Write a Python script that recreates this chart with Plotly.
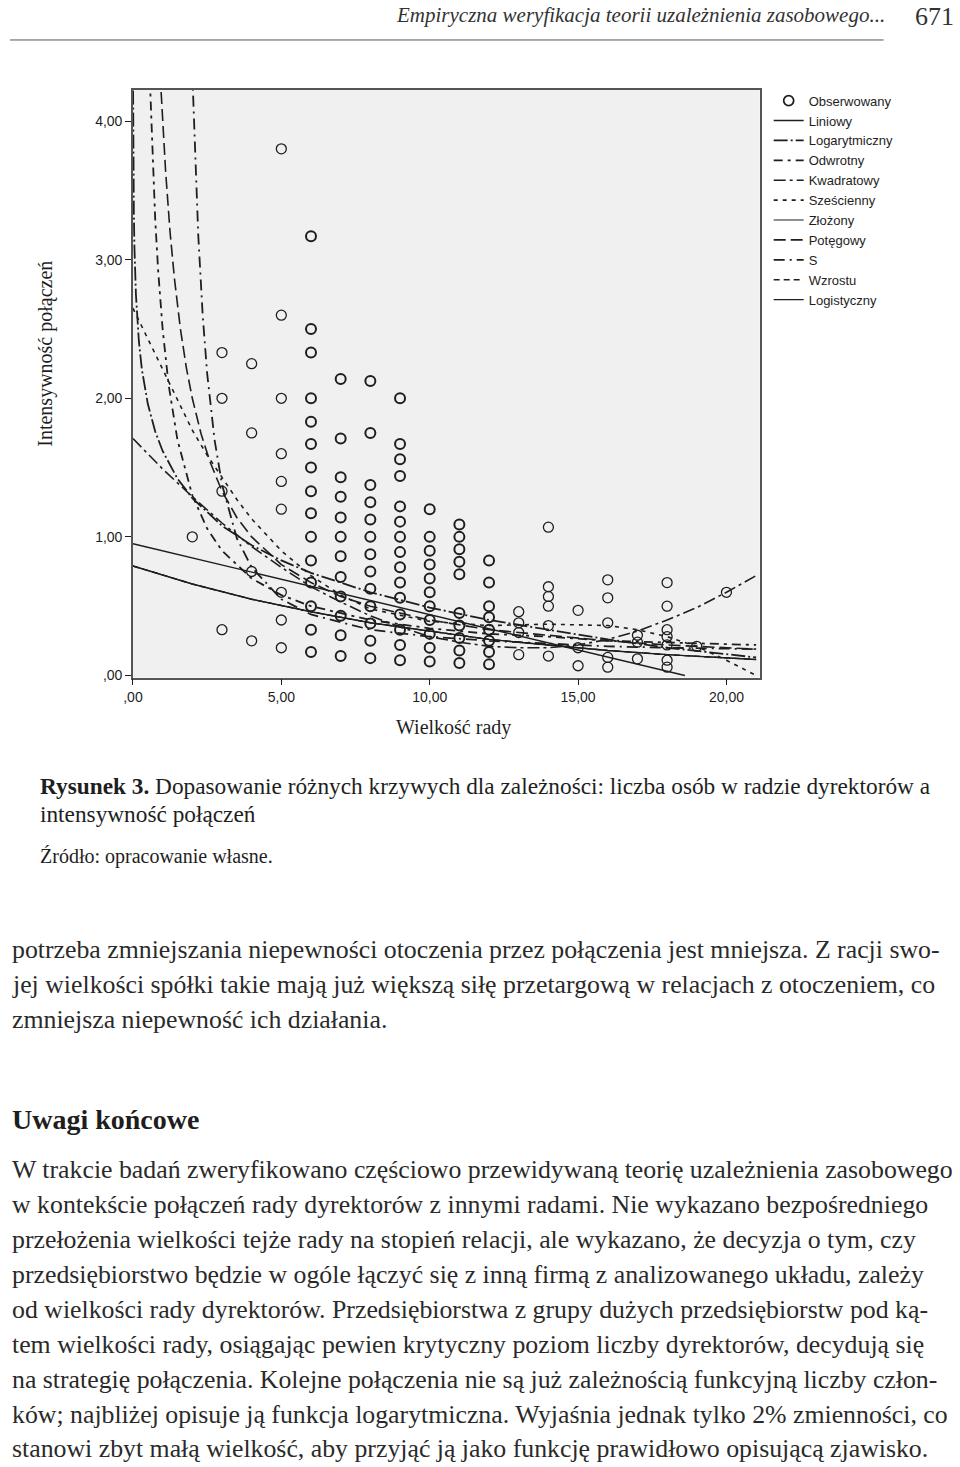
import plotly.graph_objects as go

W, H = 960, 1467

# observed points: board size (Wielkość rady) vs connection intensity
wielkosc = (
    [2]
    + [3] * 4
    + [4] * 4
    + [5] * 9
    + [6] * 15
    + [7] * 12
    + [8] * 13
    + [9] * 15
    + [10] * 11
    + [11] * 10
    + [12] * 8
    + [13] * 4
    + [14] * 6
    + [15] * 3
    + [16] * 5
    + [17] * 3
    + [18] * 7
    + [19]
    + [20]
)
intensywnosc = [
    1.00,
    0.33, 1.33, 2.00, 2.33,
    0.25, 0.75, 1.75, 2.25,
    0.20, 0.40, 0.60, 1.20, 1.40, 1.60, 2.00, 2.60, 3.80,
    0.17, 0.33, 0.50, 0.67, 0.83, 1.00, 1.17, 1.33, 1.50, 1.67, 1.83, 2.00, 2.33, 2.50, 3.17,
    0.14, 0.29, 0.43, 0.57, 0.71, 0.86, 1.00, 1.14, 1.29, 1.43, 1.71, 2.14,
    0.125, 0.25, 0.375, 0.50, 0.625, 0.75, 0.875, 1.00, 1.125, 1.25, 1.375, 1.75, 2.125,
    0.11, 0.22, 0.33, 0.44, 0.56, 0.67, 0.78, 0.89, 1.00, 1.11, 1.22, 1.44, 1.56, 1.67, 2.00,
    0.10, 0.20, 0.30, 0.40, 0.50, 0.60, 0.70, 0.80, 0.90, 1.00, 1.20,
    0.09, 0.18, 0.27, 0.36, 0.45, 0.73, 0.82, 0.91, 1.00, 1.09,
    0.08, 0.17, 0.25, 0.33, 0.42, 0.50, 0.67, 0.83,
    0.15, 0.31, 0.38, 0.46,
    0.14, 0.36, 0.50, 0.57, 0.64, 1.07,
    0.07, 0.20, 0.47,
    0.06, 0.13, 0.38, 0.56, 0.69,
    0.12, 0.24, 0.29,
    0.06, 0.11, 0.22, 0.28, 0.33, 0.50, 0.67,
    0.21,
    0.60,
]

# fitted curves
lin_x = [0, 18.6]
lin_y = [0.95, 0.0]

log_x = [0.005, 0.01, 0.02, 0.03, 0.05, 0.1, 0.2, 0.3, 0.5, 0.75, 1, 1.5, 2, 3, 4, 5, 6, 8,
         10, 12, 14, 16, 18, 20, 21]
log_y = [4.22, 3.88, 3.54, 3.34, 3.09, 2.75, 2.41, 2.21, 1.96, 1.76, 1.62, 1.42, 1.28, 1.08,
         0.94, 0.83, 0.74, 0.60, 0.49, 0.40, 0.33, 0.26, 0.20, 0.15, 0.13]

inv_x = [0.57, 0.65, 0.75, 0.85, 1.0, 1.2, 1.5, 2, 2.5, 3, 4, 5, 6, 8, 10, 12, 14, 16, 18, 21]
inv_y = [4.30, 3.78, 3.29, 2.92, 2.50, 2.10, 1.70, 1.30, 1.06, 0.90, 0.70, 0.58, 0.50, 0.40,
         0.34, 0.30, 0.28, 0.25, 0.24, 0.22]

quad_x = list(range(22))
quad_y = [1.71, 1.49, 1.29, 1.10, 0.93, 0.78, 0.64, 0.53, 0.43, 0.35, 0.28, 0.24, 0.21, 0.20,
          0.20, 0.22, 0.26, 0.32, 0.40, 0.49, 0.60, 0.72]

cub_x = [0, 0.5, 1, 1.5, 2, 2.5, 3, 3.5, 4, 5, 6, 7, 8, 10, 12, 14, 16, 17, 18, 19, 20, 21]
cub_y = [2.65, 2.43, 2.21, 1.98, 1.77, 1.59, 1.43, 1.27, 1.13, 0.90, 0.72, 0.58, 0.48, 0.39,
         0.36, 0.37, 0.36, 0.33, 0.28, 0.21, 0.11, 0.0]

exp_x = [0, 2, 4, 6, 8, 10, 12, 14, 16, 18, 20, 21]
exp_y = [0.79, 0.66, 0.55, 0.46, 0.38, 0.32, 0.26, 0.22, 0.18, 0.15, 0.13, 0.115]

pow_x = [0.95, 1.0, 1.1, 1.25, 1.4, 1.6, 1.8, 2.0, 2.3, 2.6, 3, 3.5, 4, 5, 6, 7, 8, 10, 12,
         14, 16, 18, 21]
pow_y = [4.21, 4.00, 3.64, 3.20, 2.86, 2.50, 2.22, 2.00, 1.74, 1.54, 1.33, 1.14, 1.00, 0.80,
         0.67, 0.57, 0.50, 0.40, 0.33, 0.29, 0.25, 0.22, 0.19]

s_x = [2.0, 2.1, 2.2, 2.35, 2.5, 2.75, 3, 3.5, 4, 5, 6, 8, 10, 12, 14, 16, 18, 21]
s_y = [4.35, 3.69, 3.18, 2.60, 2.18, 1.70, 1.38, 0.99, 0.78, 0.55, 0.44, 0.33, 0.28, 0.25,
       0.23, 0.21, 0.20, 0.19]

x_ticks = [0, 5, 10, 15, 20]
x_tick_text = [",00", "5,00", "10,00", "15,00", "20,00"]
y_ticks = [0, 1, 2, 3, 4]
y_tick_text = [",00", "1,00", "2,00", "3,00", "4,00"]

akapit1 = [
    "potrzeba zmniejszania niepewności otoczenia przez połączenia jest mniejsza. Z racji swo-",
    "jej wielkości spółki takie mają już większą siłę przetargową w relacjach z otoczeniem, co",
    "zmniejsza niepewność ich działania.",
]
akapit2 = [
    "W trakcie badań zweryfikowano częściowo przewidywaną teorię uzależnienia zasobowego",
    "w kontekście połączeń rady dyrektorów z innymi radami. Nie wykazano bezpośredniego",
    "przełożenia wielkości tejże rady na stopień relacji, ale wykazano, że decyzja o tym, czy",
    "przedsiębiorstwo będzie w ogóle łączyć się z inną firmą z analizowanego układu, zależy",
    "od wielkości rady dyrektorów. Przedsiębiorstwa z grupy dużych przedsiębiorstw pod ką-",
    "tem wielkości rady, osiągając pewien krytyczny poziom liczby dyrektorów, decydują się",
    "na strategię połączenia. Kolejne połączenia nie są już zależnością funkcyjną liczby człon-",
    "ków; najbliżej opisuje ją funkcja logarytmiczna. Wyjaśnia jednak tylko 2% zmienności, co",
    "stanowi zbyt małą wielkość, aby przyjąć ją jako funkcję prawidłowo opisującą zjawisko.",
]


# page pixel -> paper fraction (small correction for how the page is photographed)
def px(x):
    return max(0.0, (x - 10) / 0.99 / W)


def py(y):
    return 1 - y / 0.9966 / H


INK = "#1e1e1e"
TEXT = "#2a2a2a"
SERIF = "Liberation Serif, Times New Roman, serif"
SANS = "Liberation Sans Narrow, Liberation Sans, Arial, sans-serif"

fig = go.Figure()

# stacked observations in the middle columns print darker in the original
ring = [2.0 if 6 <= x <= 12 else 1.3 for x in wielkosc]
fig.add_trace(go.Scatter(
    x=wielkosc, y=intensywnosc, mode="markers", name="Obserwowany",
    marker=dict(symbol="circle-open", size=10, color=INK, line=dict(width=ring, color=INK)),
))

curves = [
    ("Liniowy", lin_x, lin_y, "solid", 1.4),
    ("Logarytmiczny", log_x, log_y, "14px,3px,2px,3px", 1.8),
    ("Odwrotny", inv_x, inv_y, "9px,5px,3px,5px", 1.8),
    ("Kwadratowy", quad_x, quad_y, "12px,4px,3px,4px", 1.6),
    ("Sześcienny", cub_x, cub_y, "4px,5px", 1.6),
    ("Złożony", exp_x, exp_y, "solid", 1.0),
    ("Potęgowy", pow_x, pow_y, "12px,5px", 1.6),
    ("S", s_x, s_y, "11px,5px,2px,5px", 1.8),
    ("Wzrostu", exp_x, exp_y, "6px,4px", 1.4),
    ("Logistyczny", exp_x, exp_y, "solid", 1.4),
]
for name, xs, ys, dash, width in curves:
    fig.add_trace(go.Scatter(
        x=xs, y=ys, mode="lines", name=name,
        line=dict(color=INK, width=width, dash=dash),
    ))

fig.update_xaxes(
    domain=[px(133), px(760)], range=[0, 21.12],
    tickvals=x_ticks, ticktext=x_tick_text, ticks="outside", ticklen=6,
    tickcolor=INK, showgrid=False, zeroline=False,
    showline=True, linecolor="#555", linewidth=1.5, mirror=True,
    tickfont=dict(family=SANS, size=14, color=INK),
)
fig.update_yaxes(
    domain=[py(678), py(90)], range=[-0.015, 4.225],
    tickvals=y_ticks, ticktext=y_tick_text, ticks="outside", ticklen=6,
    tickcolor=INK, showgrid=False, zeroline=False,
    showline=True, linecolor="#555", linewidth=1.5, mirror=True,
    tickfont=dict(family=SANS, size=14, color=INK),
)

annotations = [
    dict(x=px(887), y=py(15), text="<i>Empiryczna weryfikacja teorii uzależnienia zasobowego...</i>",
         xanchor="right", font=dict(family=SERIF, size=21, color="#333")),
    dict(x=px(935), y=py(17), text="671", xanchor="center",
         font=dict(family=SERIF, size=26, color="#333")),
    dict(x=px(46), y=py(354), text="Intensywność połączeń", textangle=-90, xanchor="center",
         font=dict(family=SERIF, size=20, color=INK)),
    dict(x=px(454), y=py(728), text="Wielkość rady", xanchor="center",
         font=dict(family=SERIF, size=20, color=INK)),
    dict(x=px(38), y=py(787), xanchor="left",
         text="<b>Rysunek 3.</b> Dopasowanie różnych krzywych dla zależności: liczba osób w radzie dyrektorów a",
         font=dict(family=SERIF, size=23.3, color=INK)),
    dict(x=px(38), y=py(815), xanchor="left", text="intensywność połączeń",
         font=dict(family=SERIF, size=23.3, color=INK)),
    dict(x=px(38), y=py(857), xanchor="left", text="Źródło: opracowanie własne.",
         font=dict(family=SERIF, size=20, color=INK)),
    dict(x=px(3), y=py(1120), xanchor="left", text="<b>Uwagi końcowe</b>",
         font=dict(family=SERIF, size=28, color=INK)),
]
for i, line in enumerate(akapit1):
    annotations.append(dict(x=px(3), y=py(950 + 35 * i), xanchor="left", text=line,
                            font=dict(family=SERIF, size=25.8, color=TEXT)))
for i, line in enumerate(akapit2):
    annotations.append(dict(x=px(3), y=py(1170 + 35 * i), xanchor="left", text=line,
                            font=dict(family=SERIF, size=25.8, color=TEXT)))
for a in annotations:
    a.update(xref="paper", yref="paper", showarrow=False, yanchor="middle")

fig.update_layout(
    width=W, height=H,
    margin=dict(l=0, r=0, t=0, b=0),
    paper_bgcolor="white", plot_bgcolor="#f0f0f0",
    annotations=annotations,
    shapes=[dict(type="line", xref="paper", yref="paper", x0=0, x1=px(884),
                 y0=py(40), y1=py(40), line=dict(color="#555", width=1))],
    legend=dict(x=px(769), y=1 - 86 / H, xanchor="left", yanchor="top",
                font=dict(family=SANS, size=13, color=INK), bgcolor="white",
                itemwidth=30, tracegroupgap=0),
    showlegend=True,
)

fig.write_html(
    "out.html",
    config={"displayModeBar": False},
    post_script="document.body.style.margin='0';document.body.style.overflow='hidden';",
)
